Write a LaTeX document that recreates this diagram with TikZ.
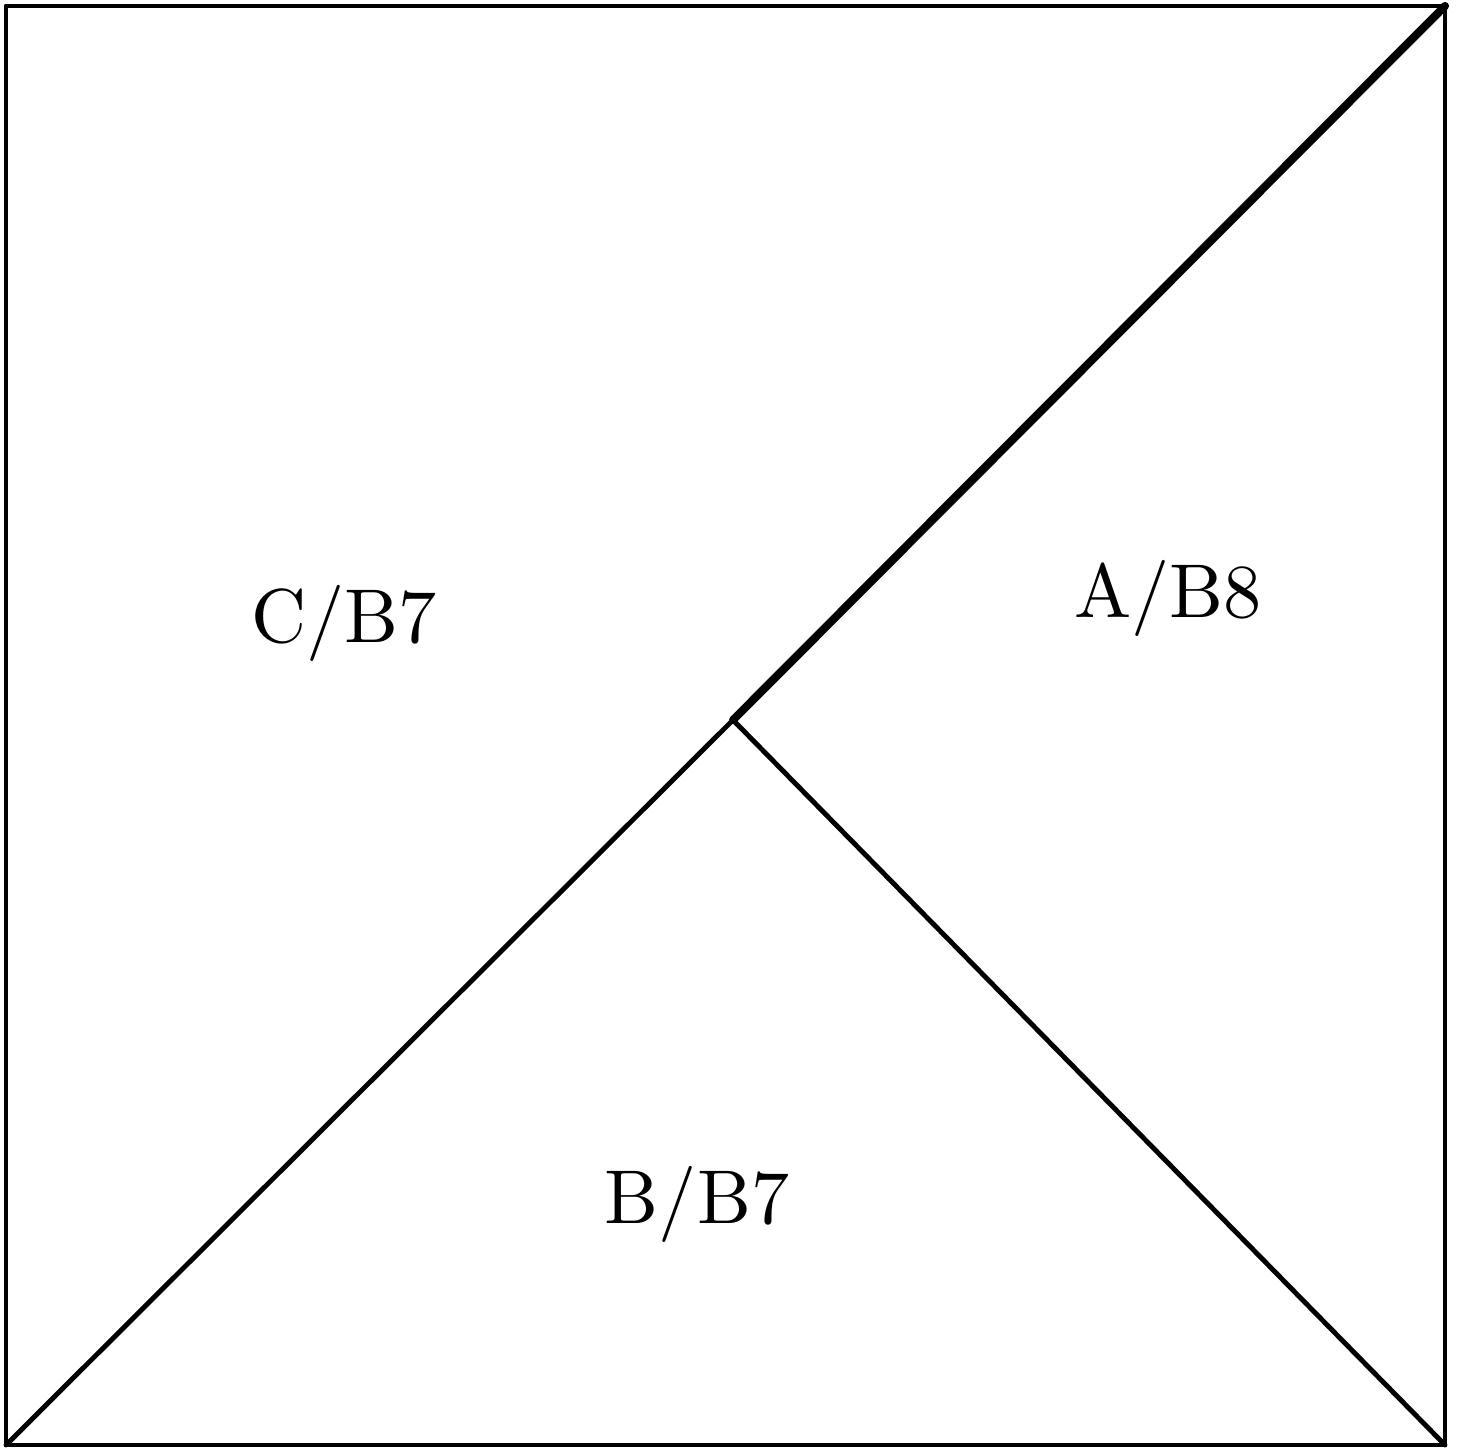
\documentclass[tikz,border=0pt]{standalone}
\begin{document}
\begin{tikzpicture}[
  edge/.style={line width=1.4pt, line cap=round, line join=round},
  thickedge/.style={line width=2.3pt, line cap=round},
  lbl/.style={inner sep=0pt}
]
\useasboundingbox (0,0) rectangle (14.59,14.49);
\coordinate (bl) at (0.06,0.04);
\coordinate (br) at (14.45,0.04);
\coordinate (tr) at (14.45,14.43);
\coordinate (tl) at (0.06,14.43);
\coordinate (m) at (7.33,7.29);
\draw[edge] (bl) -- (br) -- (tr) -- (tl) -- cycle;
\draw[edge] (bl) -- (m) -- (br);
\draw[thickedge] (m) -- (tr);
\node[lbl] (c) at (3.44,8.26) {\scalebox{2.17}{C/B7}};
\node[lbl] (a) at (11.68,8.51) {\scalebox{2.17}{A/B8}};
\node[lbl] (b) at (6.97,2.45) {\scalebox{2.17}{B/B7}};
\end{tikzpicture}
\end{document}
